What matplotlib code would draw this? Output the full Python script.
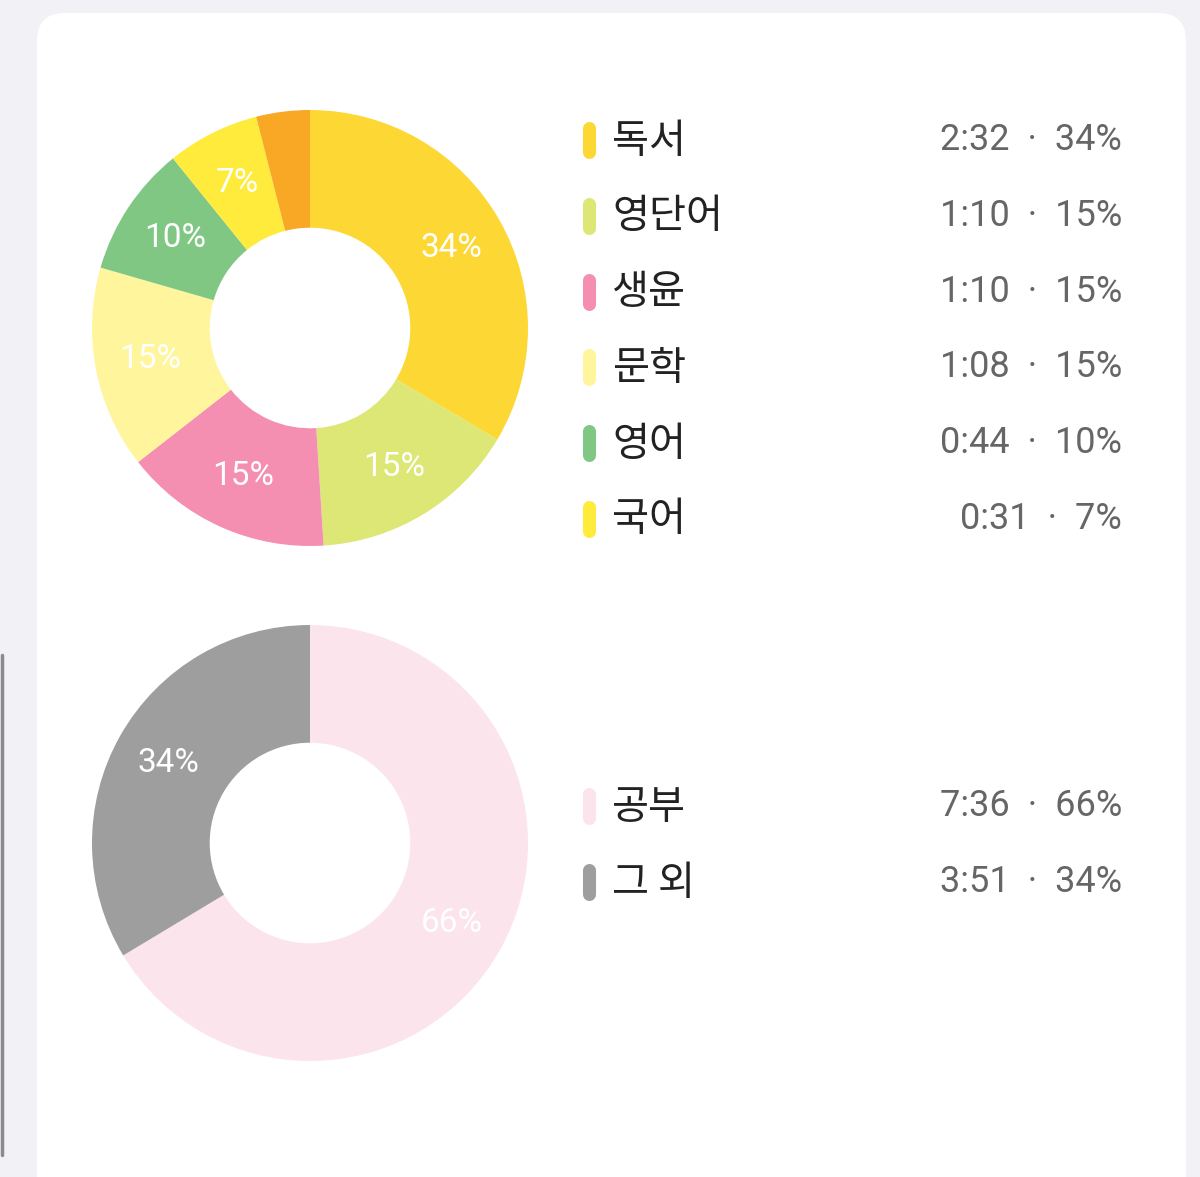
import matplotlib.pyplot as plt
from matplotlib.patches import FancyBboxPatch

plt.rcParams['font.family'] = ['Noto Sans CJK KR', 'DejaVu Sans']
NUM_FONT = ['Roboto', 'Noto Sans CJK KR']

# subjects (top donut)
subjects = ['독서', '영단어', '생윤', '문학', '영어', '국어']
minutes = [152, 70, 70, 68, 44, 31]
rest_minutes = 18  # small orange slice, not in legend
time_labels = ['2:32', '1:10', '1:10', '1:08', '0:44', '0:31']
pct_labels = ['34%', '15%', '15%', '15%', '10%', '7%']
subject_colors = ['#FDD835', '#DCE775', '#F48FB1', '#FFF59D', '#81C784', '#FFEB3B']
rest_color = '#F9A825'

# study vs other (bottom donut)
split_names = ['공부', '그 외']
split_minutes = [456, 231]
split_times = ['7:36', '3:51']
split_pcts = ['66%', '34%']
split_colors = ['#FCE4EC', '#9E9E9E']

W, H = 1200, 1177
fig = plt.figure(figsize=(W / 100, H / 100), dpi=100, facecolor='#F2F1F6')

bg = fig.add_axes([0, 0, 1, 1])
bg.set_xlim(0, W)
bg.set_ylim(H, 0)
bg.axis('off')
bg.add_patch(FancyBboxPatch((37, 13), 1149, 1250, boxstyle='round,pad=0,rounding_size=28',
                            facecolor='white', edgecolor='none'))
# scrollbar-like edge on the left
bg.plot([1.5, 1.5], [655, 1155], color='#8a8a8a', lw=2.5, solid_capstyle='round')


def donut(cx, cy, r, values, colors, labels):
    ax = fig.add_axes([(cx - r) / W, (H - cy - r) / H, 2 * r / W, 2 * r / H])
    it = iter(labels)
    ax.pie(values, colors=colors, startangle=90, counterclock=False, radius=1,
           wedgeprops=dict(width=0.54, edgecolor='none'),
           autopct=lambda p: next(it), pctdistance=0.745,
           textprops=dict(color='white', fontsize=24, family=NUM_FONT))
    ax.set_xlim(-1, 1)
    ax.set_ylim(-1, 1)
    ax.set_aspect('equal')
    ax.axis('off')


def legend_row(y, name, color, right):
    bg.plot([589, 589], [y - 12, y + 12], color=color, lw=9.4, solid_capstyle='round')
    bg.text(612, y + 1, name, fontsize=29, color='#222222', ha='left', va='center')
    bg.text(1122, y, right, fontsize=26, color='#666666', ha='right', va='center',
            family=NUM_FONT)


donut(310, 328, 218, minutes + [rest_minutes], subject_colors + [rest_color], pct_labels + [''])
donut(310, 843, 218, split_minutes, split_colors, split_pcts)

for i, name in enumerate(subjects):
    legend_row(140 + 75.8 * i, name, subject_colors[i], f'{time_labels[i]}  ·  {pct_labels[i]}')

for i, name in enumerate(split_names):
    legend_row(806 + 76 * i, name, split_colors[i], f'{split_times[i]}  ·  {split_pcts[i]}')

fig.savefig('out.png', dpi=100, facecolor=fig.get_facecolor())
